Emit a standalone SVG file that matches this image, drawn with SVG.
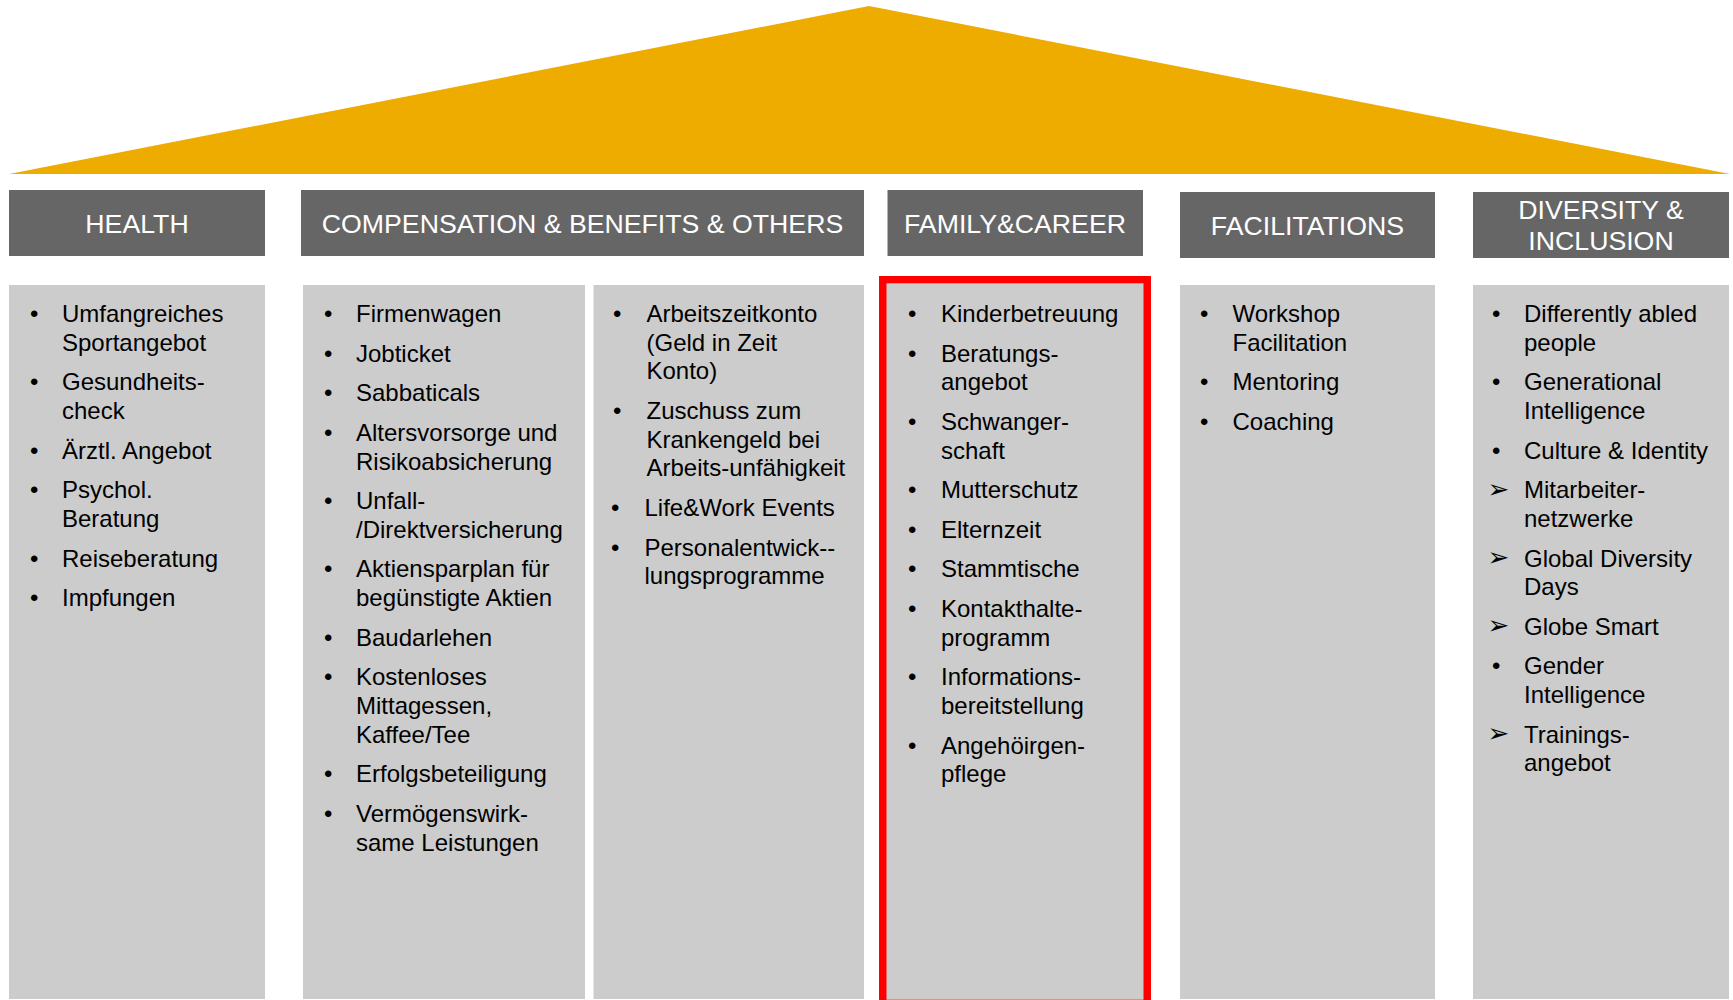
<svg xmlns="http://www.w3.org/2000/svg" width="1733" height="1000" viewBox="0 0 1733 1000">
<style>
.hdr{fill:#666666}
.hdrt{fill:#ffffff;font-family:"Liberation Sans",Arial,sans-serif;font-size:26.7px;text-anchor:middle}
.col{fill:#cccccc}
.t{fill:#000000;font-family:"Liberation Sans",Arial,sans-serif;font-size:24px}
.arr{fill:#000000;font-family:"DejaVu Sans",sans-serif;font-size:26px}
</style>
<rect width="1733" height="1000" fill="#ffffff"/>
<g id="roof">
<polygon points="869,6 1730,174 9,174" fill="#EFAC00"/>
</g>
<g id="health">
<rect class="hdr" x="9" y="190" width="256" height="66"/>
<text class="hdrt" x="137" y="233">HEALTH</text>
<rect class="col" x="9" y="285" width="256" height="714"/>
<g class="t">
<text x="30" y="322">•</text><text x="62" y="322">Umfangreiches</text><text x="62" y="350.7">Sportangebot</text>
<text x="30" y="390.3">•</text><text x="62" y="390.3">Gesundheits-</text><text x="62" y="419">check</text>
<text x="30" y="458.6">•</text><text x="62" y="458.6">Ärztl. Angebot</text>
<text x="30" y="498.2">•</text><text x="62" y="498.2">Psychol.</text><text x="62" y="526.9">Beratung</text>
<text x="30" y="566.5">•</text><text x="62" y="566.5">Reiseberatung</text>
<text x="30" y="606.1">•</text><text x="62" y="606.1">Impfungen</text>
</g>
</g>
<g id="compensation">
<rect class="hdr" x="301" y="190" width="563" height="66"/>
<text class="hdrt" x="582.5" y="233">COMPENSATION &amp; BENEFITS &amp; OTHERS</text>
<rect class="col" x="303" y="285" width="282" height="714"/>
<rect class="col" x="593.5" y="285" width="270.5" height="714"/>
<g class="t">
<text x="324" y="322">•</text><text x="356" y="322">Firmenwagen</text>
<text x="324" y="361.6">•</text><text x="356" y="361.6">Jobticket</text>
<text x="324" y="401.2">•</text><text x="356" y="401.2">Sabbaticals</text>
<text x="324" y="440.8">•</text><text x="356" y="440.8">Altersvorsorge und</text><text x="356" y="469.5">Risikoabsicherung</text>
<text x="324" y="509.1">•</text><text x="356" y="509.1">Unfall-</text><text x="356" y="537.8">/Direktversicherung</text>
<text x="324" y="577.4">•</text><text x="356" y="577.4">Aktiensparplan für</text><text x="356" y="606.1">begünstigte Aktien</text>
<text x="324" y="645.7">•</text><text x="356" y="645.7">Baudarlehen</text>
<text x="324" y="685.3">•</text><text x="356" y="685.3">Kostenloses</text><text x="356" y="714">Mittagessen,</text><text x="356" y="742.7">Kaffee/Tee</text>
<text x="324" y="782.3">•</text><text x="356" y="782.3">Erfolgsbeteiligung</text>
<text x="324" y="821.9">•</text><text x="356" y="821.9">Vermögenswirk-</text><text x="356" y="850.6">same Leistungen</text>
<text x="613" y="322">•</text><text x="646.5" y="322">Arbeitszeitkonto</text><text x="646.5" y="350.7">(Geld in Zeit</text><text x="646.5" y="379.4">Konto)</text>
<text x="613" y="419">•</text><text x="646.5" y="419">Zuschuss zum</text><text x="646.5" y="447.7">Krankengeld bei</text><text x="646.5" y="476.4">Arbeits-unfähigkeit</text>
<text x="611" y="516">•</text><text x="644.5" y="516">Life&amp;Work Events</text>
<text x="611" y="555.6">•</text><text x="644.5" y="555.6">Personalentwick--</text><text x="644.5" y="584.3">lungsprogramme</text>
</g>
</g>
<g id="family">
<rect class="hdr" x="887.5" y="190" width="255.5" height="66"/>
<text class="hdrt" x="1015" y="233">FAMILY&amp;CAREER</text>
<rect class="col" x="886" y="284" width="258" height="715"/>
<rect x="882.75" y="279.75" width="264.5" height="723.5" fill="none" stroke="#FF0000" stroke-width="7.5"/>
<g class="t">
<text x="908" y="322">•</text><text x="941" y="322">Kinderbetreuung</text>
<text x="908" y="361.6">•</text><text x="941" y="361.6">Beratungs-</text><text x="941" y="390.3">angebot</text>
<text x="908" y="429.9">•</text><text x="941" y="429.9">Schwanger-</text><text x="941" y="458.6">schaft</text>
<text x="908" y="498.2">•</text><text x="941" y="498.2">Mutterschutz</text>
<text x="908" y="537.8">•</text><text x="941" y="537.8">Elternzeit</text>
<text x="908" y="577.4">•</text><text x="941" y="577.4">Stammtische</text>
<text x="908" y="617">•</text><text x="941" y="617">Kontakthalte-</text><text x="941" y="645.7">programm</text>
<text x="908" y="685.3">•</text><text x="941" y="685.3">Informations-</text><text x="941" y="714">bereitstellung</text>
<text x="908" y="753.6">•</text><text x="941" y="753.6">Angehöirgen-</text><text x="941" y="782.3">pflege</text>
</g>
</g>
<g id="facilitations">
<rect class="hdr" x="1180" y="192" width="255" height="66"/>
<text class="hdrt" x="1307.5" y="235">FACILITATIONS</text>
<rect class="col" x="1180" y="285" width="255" height="714"/>
<g class="t">
<text x="1200" y="322">•</text><text x="1232.5" y="322">Workshop</text><text x="1232.5" y="350.7">Facilitation</text>
<text x="1200" y="390.3">•</text><text x="1232.5" y="390.3">Mentoring</text>
<text x="1200" y="429.9">•</text><text x="1232.5" y="429.9">Coaching</text>
</g>
</g>
<g id="diversity">
<rect class="hdr" x="1473" y="192" width="256" height="66"/>
<text class="hdrt" x="1601" y="218.5">DIVERSITY &amp;</text>
<text class="hdrt" x="1601" y="250">INCLUSION</text>
<rect class="col" x="1473" y="285" width="256" height="714"/>
<g class="t">
<text x="1492" y="322">•</text><text x="1524" y="322">Differently abled</text><text x="1524" y="350.7">people</text>
<text x="1492" y="390.3">•</text><text x="1524" y="390.3">Generational</text><text x="1524" y="419">Intelligence</text>
<text x="1492" y="458.6">•</text><text x="1524" y="458.6">Culture &amp; Identity</text>
<text class="arr" x="1487.5" y="497.5">➢</text><text x="1524" y="498.2">Mitarbeiter-</text><text x="1524" y="526.9">netzwerke</text>
<text class="arr" x="1487.5" y="565.8">➢</text><text x="1524" y="566.5">Global Diversity</text><text x="1524" y="595.2">Days</text>
<text class="arr" x="1487.5" y="634.1">➢</text><text x="1524" y="634.8">Globe Smart</text>
<text x="1492" y="674.4">•</text><text x="1524" y="674.4">Gender</text><text x="1524" y="703.1">Intelligence</text>
<text class="arr" x="1487.5" y="742">➢</text><text x="1524" y="742.7">Trainings-</text><text x="1524" y="771.4">angebot</text>
</g>
</g>
</svg>
